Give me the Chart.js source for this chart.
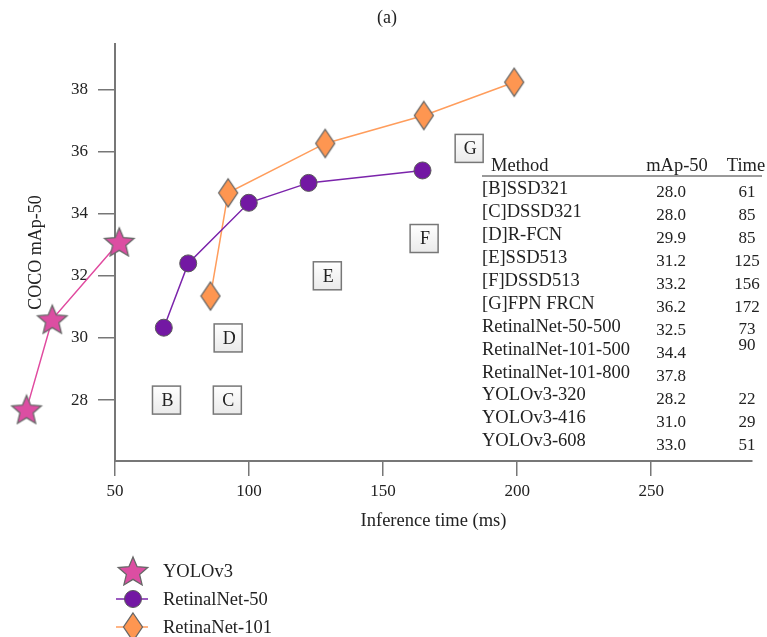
<!DOCTYPE html>
<html lang="en">
<head>
<meta charset="UTF-8">
<title>COCO mAp-50 vs inference time</title>
<script src="https://cdn.jsdelivr.net/npm/chart.js"></script>
<style>
  html, body { margin: 0; padding: 0; background: #fff; }
  #wrap { position: relative; width: 767px; height: 637px; }
</style>
</head>
<body>
<div id="wrap"><canvas id="speedChart"></canvas></div>

<script>
    // values (time in ms, COCO mAp-50)
    const yoloTime = [17.0, 26.6, 51.6];
    const yoloMap = [27.70, 30.60, 33.09];
    const retina50Time = [68.2, 77.3, 99.9, 122.2, 164.7];
    const retina50Map = [30.33, 32.40, 34.35, 34.99, 35.39];
    const retina101Time = [85.6, 92.2, 128.4, 165.2, 198.9];
    const retina101Map = [31.35, 34.67, 36.26, 37.16, 38.23];
    const seriesNames = ['YOLOv3', 'RetinalNet-50', 'RetinaNet-101'];

    // boxed method letters
    const boxLetters = ['B', 'C', 'D', 'E', 'F', 'G'];
    const boxTime = [69.2, 91.9, 92.2, 129.2, 165.3, 182.1];
    const boxMap = [28.0, 28.0, 30.0, 32.0, 33.2, 36.1];

    // the table inside the plot
    const tableMethods = ['[B]SSD321', '[C]DSSD321', '[D]R-FCN', '[E]SSD513', '[F]DSSD513', '[G]FPN FRCN',
        'RetinalNet-50-500', 'RetinalNet-101-500', 'RetinalNet-101-800', 'YOLOv3-320', 'YOLOv3-416', 'YOLOv3-608'];
    const tableMap = ['28.0', '28.0', '29.9', '31.2', '33.2', '36.2', '32.5', '34.4', '37.8', '28.2', '31.0', '33.0'];
    const tableTime = ['61', '85', '85', '125', '156', '172', '73', '90', '', '22', '29', '51'];

    const xTicks = [50, 100, 150, 200, 250];
    const yTicks = [28, 30, 32, 34, 36, 38];

    const FONT = '"Liberation Serif", "Times New Roman", serif';
    const TEXT = '#222';
    const AXIS = '#777';

    Chart.defaults.font.family = FONT;
    Chart.defaults.font.size = 17;
    Chart.defaults.color = TEXT;

    // filled star and tall diamond markers
    function starImage() {
        const c = document.createElement('canvas');
        c.width = 34; c.height = 34;
        const g = c.getContext('2d');
        const R = 15.5, r = R * 0.45, cx = 17, cy = 17 + R * 0.09;
        g.beginPath();
        for (let i = 0; i < 10; i++) {
            const a = -Math.PI / 2 + i * Math.PI / 5;
            const rad = i % 2 ? r : R;
            g.lineTo(cx + rad * Math.cos(a), cy + rad * Math.sin(a));
        }
        g.closePath();
        g.fillStyle = '#dc4ea2';
        g.fill();
        g.strokeStyle = '#676767';
        g.lineWidth = 1.3;
        g.stroke();
        return c;
    }

    function diamondImage() {
        const c = document.createElement('canvas');
        c.width = 22; c.height = 32;
        const g = c.getContext('2d');
        g.beginPath();
        g.moveTo(11, 2);
        g.lineTo(20.5, 16);
        g.lineTo(11, 30);
        g.lineTo(1.5, 16);
        g.closePath();
        g.fillStyle = '#fe9651';
        g.fill();
        g.strokeStyle = '#676767';
        g.lineWidth = 1.3;
        g.stroke();
        return c;
    }

    const starImg = starImage();
    const diamondImg = diamondImage();

    const toPoints = (xs, ys) => xs.map((v, i) => ({ x: v, y: ys[i] }));

    // extra drawing: stars (two sit left of the y axis), title, letter boxes, table, legend
    const extras = {
        id: 'extras',
        afterDatasetsDraw(chart) {
            const ctx = chart.ctx;
            chart.getDatasetMeta(0).data.forEach(p => {
                ctx.drawImage(starImg, p.x - 17, p.y - 17);
            });
        },
        afterDraw(chart) {
            const { ctx, scales: { x, y } } = chart;
            ctx.save();
            ctx.fillStyle = TEXT;
            ctx.textBaseline = 'middle';
            ctx.textAlign = 'center';
            ctx.font = '18px ' + FONT;
            ctx.fillText('(a)', 387, 18);

            // letter boxes
            boxLetters.forEach((letter, i) => {
                const px = x.getPixelForValue(boxTime[i]);
                const py = y.getPixelForValue(boxMap[i]);
                const grad = ctx.createLinearGradient(0, py - 14, 0, py + 14);
                grad.addColorStop(0, '#ffffff');
                grad.addColorStop(1, '#eaeaea');
                ctx.fillStyle = grad;
                ctx.fillRect(px - 14, py - 14, 28, 28);
                ctx.strokeStyle = AXIS;
                ctx.lineWidth = 1.5;
                ctx.strokeRect(px - 14, py - 14, 28, 28);
                ctx.fillStyle = TEXT;
                ctx.fillText(letter, px + 1, py + 1);
            });

            // table
            ctx.font = '18.5px ' + FONT;
            ctx.textAlign = 'left';
            ctx.fillText('Method', 491, 166);
            ctx.textAlign = 'center';
            ctx.fillText('mAp-50', 677, 166);
            ctx.fillText('Time', 746, 166);
            ctx.strokeStyle = AXIS;
            ctx.lineWidth = 1.5;
            ctx.beginPath();
            ctx.moveTo(482, 176);
            ctx.lineTo(762, 176);
            ctx.stroke();
            tableMethods.forEach((m, i) => {
                ctx.font = '18.5px ' + FONT;
                ctx.textAlign = 'left';
                ctx.fillText(m, 482, 189.5 + i * 22.9);
                const vy = 193 + i * 23.0;
                ctx.font = '17px ' + FONT;
                ctx.textAlign = 'center';
                ctx.fillText(tableMap[i], 671, vy);
                const shift = i === 7 ? -8 : (i === 6 ? -1 : 0);
                ctx.fillText(tableTime[i], 747, vy + shift);
            });

            // legend
            const ds = chart.data.datasets;
            const lx = 133, ly = [571, 599, 627];
            ctx.drawImage(starImg, lx - 17, ly[0] - 17);
            ctx.strokeStyle = ds[1].borderColor;
            ctx.lineWidth = 1.5;
            ctx.beginPath();
            ctx.moveTo(116, ly[1]);
            ctx.lineTo(148, ly[1]);
            ctx.stroke();
            ctx.beginPath();
            ctx.arc(lx, ly[1], 8.5, 0, Math.PI * 2);
            ctx.fillStyle = ds[1].pointBackgroundColor;
            ctx.fill();
            ctx.strokeStyle = ds[1].pointBorderColor;
            ctx.lineWidth = 1;
            ctx.stroke();
            ctx.strokeStyle = ds[2].borderColor;
            ctx.lineWidth = 1.5;
            ctx.beginPath();
            ctx.moveTo(116, ly[2]);
            ctx.lineTo(148, ly[2]);
            ctx.stroke();
            ctx.drawImage(diamondImg, lx - 11, ly[2] - 16);
            ctx.fillStyle = TEXT;
            ctx.textAlign = 'left';
            ctx.font = '18.5px ' + FONT;
            seriesNames.forEach((n, i) => ctx.fillText(n, 163, ly[i] + 1));
            ctx.restore();
        }
    };

    const ctx = document.getElementById('speedChart').getContext('2d');
    const speedChart = new Chart(ctx, {
        type: 'scatter',
        data: {
            datasets: [{
                label: seriesNames[0],
                data: toPoints(yoloTime, yoloMap),
                showLine: true,
                borderColor: '#e04a9f',
                borderWidth: 1.5,
                pointStyle: starImg,
                pointRadius: 0,
                clip: false
            }, {
                label: seriesNames[1],
                data: toPoints(retina50Time, retina50Map),
                showLine: true,
                borderColor: '#7b24ab',
                borderWidth: 1.5,
                pointStyle: 'circle',
                pointRadius: 8.5,
                pointBackgroundColor: '#7318a3',
                pointBorderColor: '#5a5a5a',
                pointBorderWidth: 1,
                clip: false
            }, {
                label: seriesNames[2],
                data: toPoints(retina101Time, retina101Map),
                showLine: true,
                borderColor: '#ff9d5c',
                borderWidth: 1.5,
                pointStyle: diamondImg,
                clip: false
            }]
        },
        options: {
            responsive: true,
            maintainAspectRatio: false,
            animation: false,
            events: [],
            layout: { padding: { top: 44, right: 15, left: 0, bottom: 0 } },
            plugins: {
                legend: { display: false },
                tooltip: { enabled: false }
            },
            scales: {
                x: {
                    type: 'linear',
                    bounds: 'data',
                    afterDataLimits: s => { s.min = 50; s.max = 287.6; },
                    afterBuildTicks: s => { s.ticks = xTicks.map(v => ({ value: v })); },
                    afterFit: s => { s.height = 176; },
                    grid: { drawOnChartArea: false, tickLength: 15, color: AXIS, lineWidth: 1.5 },
                    border: { display: true, color: AXIS, width: 2 },
                    ticks: { padding: 5, maxRotation: 0, color: TEXT },
                    title: {
                        display: true,
                        text: 'Inference time (ms)',
                        color: TEXT,
                        font: { size: 18.5 },
                        padding: { top: 0, bottom: 105 }
                    }
                },
                y: {
                    type: 'linear',
                    min: 26.04,
                    max: 39.46,
                    afterBuildTicks: s => { s.ticks = yTicks.map(v => ({ value: v })); },
                    afterFit: s => { s.width = 115; },
                    grid: { drawOnChartArea: false, tickLength: 17, color: AXIS, lineWidth: 1.5 },
                    border: { display: true, color: AXIS, width: 2 },
                    ticks: { padding: 10, color: TEXT },
                    title: {
                        display: true,
                        text: 'COCO mAp-50',
                        color: TEXT,
                        font: { size: 18 },
                        padding: { top: 25, bottom: 0 }
                    }
                }
            }
        },
        plugins: [extras]
    });
</script>
</body>
</html>
